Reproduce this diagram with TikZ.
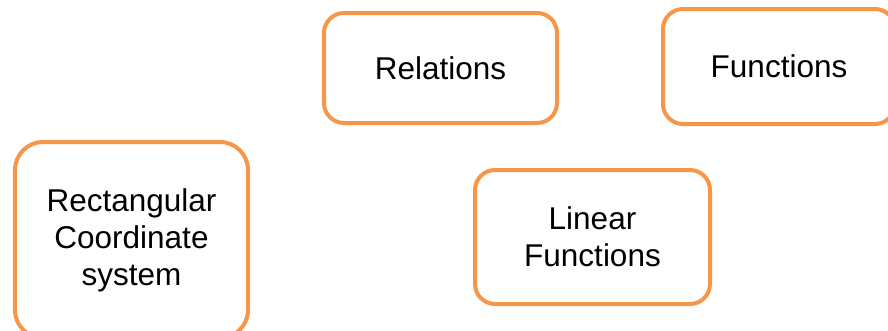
\documentclass[tikz,border=0pt]{standalone}
\usepackage{fontspec}
\setmainfont{Liberation Sans}
\definecolor{boxorange}{HTML}{F79646}
\begin{document}
\begin{tikzpicture}[x=1bp,y=-1bp,
  topicbox/.style={draw=boxorange, line width=4bp, rounded corners=20bp, fill=white,
    align=center, inner sep=0pt, text=black,
    font=\fontsize{31.5bp}{37bp}\selectfont}]
\useasboundingbox (0,0) rectangle (888,330);
\clip (0,0) rectangle (888,330);
\node[topicbox, minimum width=233bp, minimum height=110bp] (rel) at (440.5,68) {Relations};
\node[topicbox, minimum width=232bp, minimum height=115bp] (fun) at (779,66.5) {Functions};
\node[topicbox, rounded corners=28bp, minimum width=233bp, minimum height=196bp] (rect) at (131.5,240) {Rectangular\\Coordinate\\system};
\node[topicbox, minimum width=235bp, minimum height=134bp] (lin) at (592.5,237) {Linear\\Functions};
\end{tikzpicture}
\end{document}
